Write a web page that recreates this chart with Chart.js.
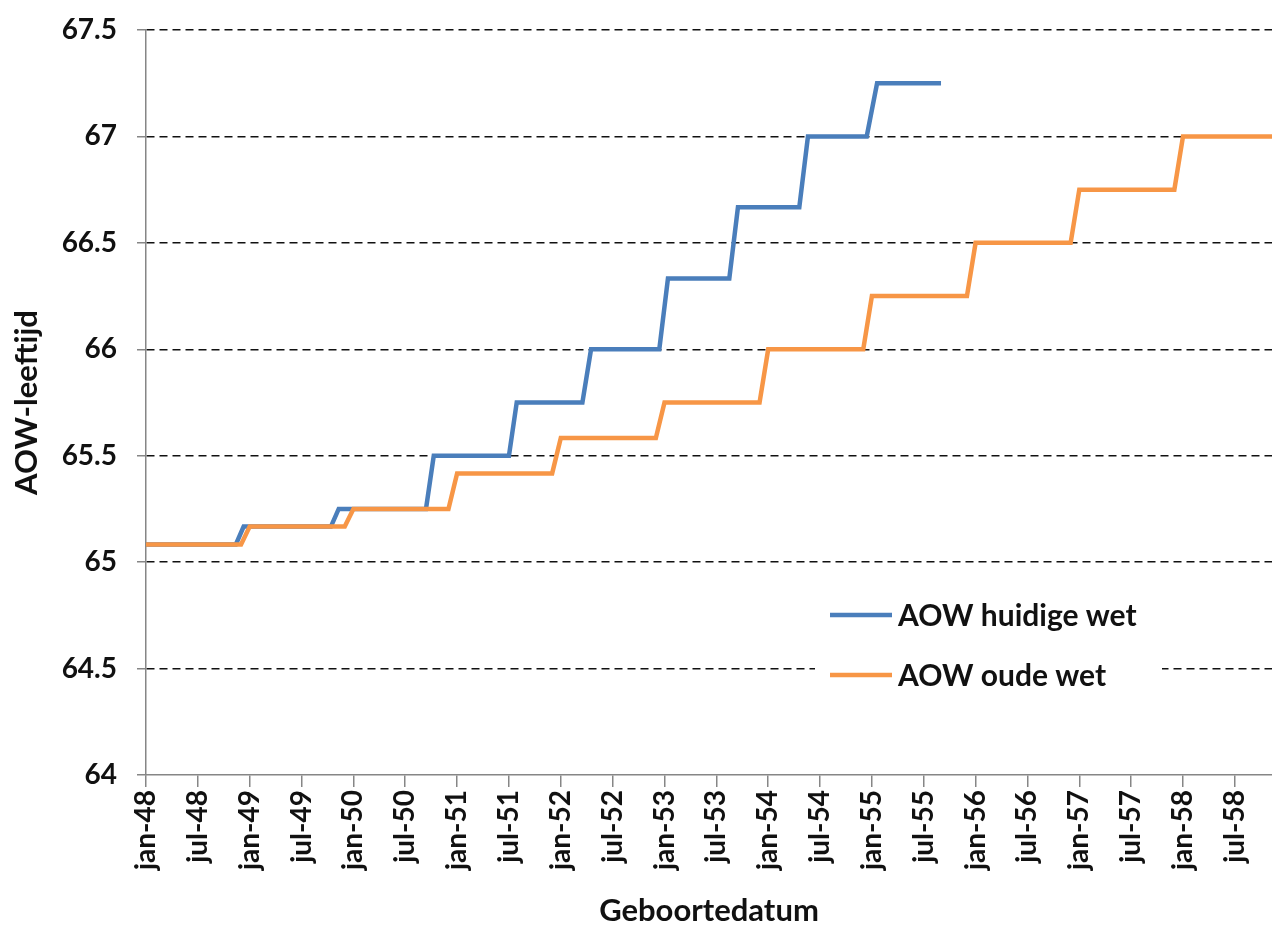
<!DOCTYPE html>
<html>
<head>
<meta charset="utf-8">
<script src="https://cdn.jsdelivr.net/npm/chart.js@4.4.1/dist/chart.umd.min.js"></script>
<style>
  html, body { margin: 0; padding: 0; background: #fff; }
  #wrap { position: relative; width: 1272px; height: 930px; }
  canvas { display: block; }
</style>
</head>
<body>
<div id="wrap"><canvas id="c" width="1272" height="930"></canvas></div>
<script>
// ---- Data (months counted from jan-48 = 0) ----
const xTickLabels = ['jan-48','jul-48','jan-49','jul-49','jan-50','jul-50','jan-51','jul-51',
  'jan-52','jul-52','jan-53','jul-53','jan-54','jul-54','jan-55','jul-55','jan-56','jul-56',
  'jan-57','jul-57','jan-58','jul-58'];
const xMaxMonth = 130.3;

const seriesNames = ['AOW huidige wet', 'AOW oude wet'];

const blueMonths = [0, 10.4, 11.3, 21.4, 22.3, 32.4, 33.3, 42.0, 42.9, 50.5, 51.5, 59.4, 60.4,
  67.5, 68.5, 75.6, 76.6, 83.4, 84.6, 92];
const blueAges = [65.083, 65.083, 65.167, 65.167, 65.25, 65.25, 65.5, 65.5, 65.75, 65.75, 66, 66,
  66.333, 66.333, 66.667, 66.667, 67, 67, 67.25, 67.25];

const orangeMonths = [0, 11, 12, 23, 24, 35, 36, 47, 48, 59, 60, 71, 72, 83, 84, 95, 96, 107,
  108, 119, 120, 131];
const orangeAges = [65.083, 65.083, 65.167, 65.167, 65.25, 65.25, 65.417, 65.417, 65.583, 65.583,
  65.75, 65.75, 66, 66, 66.25, 66.25, 66.5, 66.5, 66.75, 66.75, 67, 67];

const yMin = 64, yMax = 67.5, yStep = 0.5;

// ---- Styles ----
const BLUE = '#4A7EBB';
const ORANGE = '#F79646';
const AXIS = '#868686';
const FONT = 'Lato';

function toPoints(xs, ys) { return xs.map((x, i) => ({ x: x, y: ys[i] })); }

const legendPlugin = {
  id: 'innerLegend',
  afterDraw(chart) {
    const ctx = chart.ctx;
    ctx.save();
    ctx.fillStyle = '#fff';
    ctx.fillRect(815, 590, 347, 108);
    const items = [
      { name: seriesNames[0], color: BLUE, y: 615 },
      { name: seriesNames[1], color: ORANGE, y: 675 }
    ];
    items.forEach(it => {
      ctx.strokeStyle = it.color;
      ctx.lineWidth = 4.5;
      ctx.lineCap = 'butt';
      ctx.beginPath();
      ctx.moveTo(830, it.y);
      ctx.lineTo(892, it.y);
      ctx.stroke();
      ctx.fillStyle = '#111';
      ctx.font = 'bold 30px ' + FONT;
      ctx.textBaseline = 'middle';
      ctx.textAlign = 'left';
      ctx.fillText(it.name, 898, it.y + 1);
    });
    ctx.restore();
  }
};

function start() {
  Chart.defaults.font.family = FONT;
  Chart.defaults.color = '#111';
  new Chart(document.getElementById('c'), {
    type: 'line',
    data: {
      datasets: [
        {
          label: seriesNames[0],
          data: toPoints(blueMonths, blueAges),
          borderColor: BLUE,
          backgroundColor: BLUE,
          borderWidth: 4.5,
          pointRadius: 0,
          tension: 0,
          borderJoinStyle: 'miter',
          order: 1
        },
        {
          label: seriesNames[1],
          data: toPoints(orangeMonths, orangeAges),
          borderColor: ORANGE,
          backgroundColor: ORANGE,
          borderWidth: 4.5,
          pointRadius: 0,
          tension: 0,
          borderJoinStyle: 'miter',
          order: 0
        }
      ]
    },
    options: {
      responsive: false,
      animation: false,
      devicePixelRatio: 1,
      layout: { padding: { top: 30, right: 0, bottom: 0, left: 0 } },
      plugins: {
        legend: { display: false },
        tooltip: { enabled: false }
      },
      scales: {
        x: {
          type: 'linear',
          min: 0,
          max: xMaxMonth,
          afterFit(scale) { scale.height = 155; scale.paddingLeft = 0; scale.paddingRight = 0; },
          ticks: {
            stepSize: 6,
            includeBounds: false,
            autoSkip: false,
            minRotation: 90,
            maxRotation: 90,
            padding: 3,
            font: { size: 28, weight: 'bold' },
            color: '#111',
            callback: (v) => xTickLabels[Math.round(v / 6)]
          },
          grid: {
            drawOnChartArea: false,
            drawTicks: true,
            tickLength: 12,
            color: AXIS,
            tickColor: AXIS,
            lineWidth: 1.5
          },
          border: { display: true, color: AXIS, width: 1.5 },
          title: {
            display: true,
            text: 'Geboortedatum',
            font: { size: 31, weight: 'bold' },
            color: '#111',
            padding: { top: 0, bottom: 0 }
          }
        },
        y: {
          type: 'linear',
          min: yMin,
          max: yMax,
          afterFit(scale) { scale.width = 146; scale.paddingTop = 0; scale.paddingBottom = 0; },
          ticks: {
            stepSize: yStep,
            padding: 20,
            font: { size: 28, weight: 'bold' },
            color: '#111',
            callback: (v) => String(v)
          },
          grid: {
            color: (c) => (c.tick && c.tick.value === yMin) ? 'rgba(0,0,0,0)' : '#111',
            lineWidth: 1.5,
            tickColor: AXIS,
            tickBorderDash: [1, 0],
            tickLength: 9,
            tickWidth: 1.5
          },
          border: { display: true, color: AXIS, width: 1.5, dash: [8, 5] },
          title: {
            display: true,
            text: 'AOW-leeftijd',
            font: { size: 31, weight: 'bold' },
            color: '#111',
            padding: { top: 8, bottom: 0 }
          }
        }
      }
    },
    plugins: [legendPlugin]
  });
}

if (document.fonts && document.fonts.load) {
  Promise.all([
    document.fonts.load('bold 24px Lato'),
    document.fonts.load('24px Lato')
  ]).then(start, start);
} else {
  start();
}
</script>
</body>
</html>
